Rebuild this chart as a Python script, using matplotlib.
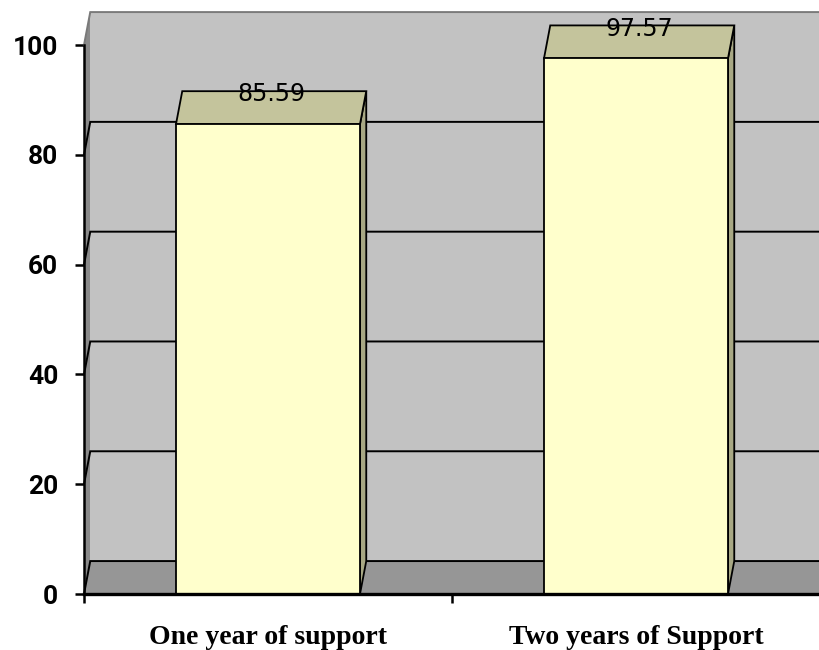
import numpy as np
import matplotlib.pyplot as plt
from matplotlib.patches import Polygon, Rectangle

# data
categories = ["One year of support", "Two years of Support"]
values = [85.59, 97.57]
yticks = [0, 20, 40, 60, 80, 100]

# 3d look: depth offset in data units
dx, dy = 0.017, 6.0
top = 100
bar_w = 0.5

fig = plt.figure(figsize=(8.19, 6.5), dpi=100)
ax = fig.add_axes([84/819, 56/650, 736/819, 594/650])
ax.set_xlim(-0.5, 1.5)
ax.set_ylim(0, 108.2)
x0, x1 = -0.5, 1.6

# walls and floor
ax.add_patch(Polygon([(x0, 0), (x0+dx, dy), (x0+dx, top+dy), (x0, top)],
                     fc='#8a8a8a', ec='none', zorder=1, clip_on=False))
ax.add_patch(Polygon([(x0+dx, dy), (x1, dy), (x1, top+dy), (x0+dx, top+dy)],
                     fc='#c2c2c2', ec='none', zorder=1, clip_on=False))
ax.add_patch(Polygon([(x0, 0), (x1, 0), (x1, dy), (x0+dx, dy)],
                     fc='#969696', ec='none', zorder=1, clip_on=False))

# gridlines on side + back wall
for v in yticks:
    c = '#7a7a7a' if v == top else 'black'
    ax.plot([x0, x0+dx, x1], [v, v+dy, v+dy], color=c, lw=1.4, zorder=2,
            clip_on=False, solid_joinstyle='miter')

# bars
for i, v in enumerate(values):
    xl, xr = i - bar_w/2, i + bar_w/2
    ax.add_patch(Polygon([(xr, 0), (xr+dx, dy), (xr+dx, v+dy), (xr, v)],
                         fc='#a8a884', ec='black', lw=1.3, zorder=3))
    ax.add_patch(Polygon([(xl, v), (xr, v), (xr+dx, v+dy), (xl+dx, v+dy)],
                         fc='#c4c49c', ec='black', lw=1.3, zorder=3))
    ax.add_patch(Rectangle((xl, 0), bar_w, v, fc='#ffffcc', ec='black',
                           lw=1.3, zorder=4))
    ax.text(i + dx/2, v + dy*0.9, f"{v:.2f}", ha='center', va='center',
            fontsize=17, color='black', zorder=5)

# axes
for s in ['top', 'right']:
    ax.spines[s].set_visible(False)
ax.spines['left'].set_bounds(0, top)
ax.spines['left'].set_linewidth(1.8)
ax.spines['bottom'].set_linewidth(2.4)
ax.spines['left'].set_zorder(6)
ax.spines['bottom'].set_zorder(6)

ax.set_yticks(yticks)
ax.tick_params(axis='y', length=6.5, width=1.8, pad=12, labelsize=19)
for t in ax.get_yticklabels():
    t.set_fontfamily('Roboto')
    t.set_fontweight('bold')

ax.set_xticks([-0.5, 0.5, 1.5])
ax.set_xticklabels(['', '', ''])
ax.tick_params(axis='x', which='major', length=6.5, width=1.8)
ax.set_xticks([0, 1], minor=True)
ax.set_xticklabels(categories, minor=True, fontsize=20,
                   fontfamily='Liberation Serif', fontweight='bold')
ax.tick_params(axis='x', which='minor', length=0, pad=22)

fig.savefig('out.png', dpi=100)
